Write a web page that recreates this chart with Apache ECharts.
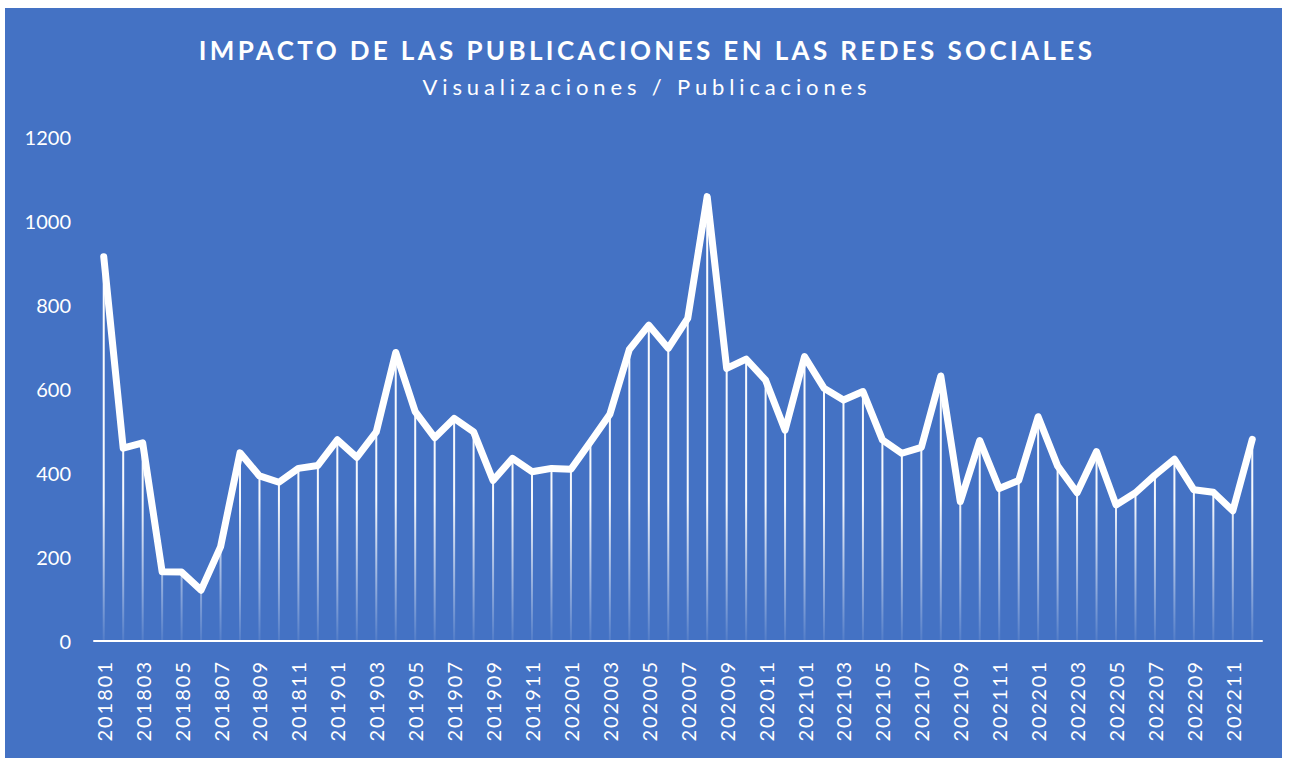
<!DOCTYPE html>
<html>
<head>
<meta charset="utf-8">
<script src="https://cdn.jsdelivr.net/npm/echarts@6/dist/echarts.min.js"></script>
<style>
  html, body { margin: 0; padding: 0; background: #ffffff; }
  #chart { position: absolute; left: 5px; top: 8px; width: 1277px; height: 750px; }
</style>
</head>
<body>
<div id="chart"></div>
<script>
// Monthly periods (YYYYMM)
const periods = [
  '201801','201802','201803','201804','201805','201806','201807','201808','201809','201810','201811','201812',
  '201901','201902','201903','201904','201905','201906','201907','201908','201909','201910','201911','201912',
  '202001','202002','202003','202004','202005','202006','202007','202008','202009','202010','202011','202012',
  '202101','202102','202103','202104','202105','202106','202107','202108','202109','202110','202111','202112',
  '202201','202202','202203','202204','202205','202206','202207','202208','202209','202210','202211','202212'
];

// Views per post, one value per month
const viewsPerPost = [
  915, 459, 472, 165, 164, 121, 224, 448, 393, 378, 411, 418,
  479, 437, 498, 687, 546, 484, 530, 498, 382, 435, 403, 411,
  409, 474, 540, 694, 752, 697, 768, 1058, 649, 671, 621, 502,
  677, 602, 574, 594, 479, 447, 461, 631, 332, 477, 363, 382,
  534, 417, 353, 451, 324, 353, 395, 433, 360, 354, 310, 480
];

const titleText = 'IMPACTO DE LAS PUBLICACIONES EN LAS REDES SOCIALES';
const subtitleText = 'Visualizaciones / Publicaciones';

const FONT = 'Lato, "Open Sans", "DejaVu Sans", sans-serif';
const BLUE = '#4472C4';

const dom = document.getElementById('chart');
const chart = echarts.init(dom, null, { renderer: 'svg' });

const grid = { left: 89, right: 20, top: 129, bottom: 117 };
const plotTop = grid.top;
const plotBottom = 750 - grid.bottom;

const option = {
  backgroundColor: BLUE,
  animation: false,
  graphic: [
    {
      type: 'text', x: 642, y: 42, silent: true,
      style: {
        text: titleText, fill: '#ffffff',
        font: 'bold 26px ' + FONT,
        align: 'center', verticalAlign: 'middle',
        textAlign: 'center', textVerticalAlign: 'middle'
      }
    },
    {
      type: 'text', x: 642, y: 78, silent: true,
      style: {
        text: subtitleText, fill: '#ffffff',
        font: '22px ' + FONT,
        align: 'center', verticalAlign: 'middle',
        textAlign: 'center', textVerticalAlign: 'middle'
      }
    }
  ],
  grid: grid,
  xAxis: {
    type: 'category',
    data: periods,
    boundaryGap: true,
    axisLine: { show: true, lineStyle: { color: '#ffffff', width: 2 } },
    axisTick: { show: false },
    axisLabel: {
      interval: 1, rotate: 90, margin: 19,
      color: '#ffffff', fontFamily: FONT, fontSize: 20
    },
    splitLine: { show: false }
  },
  yAxis: {
    type: 'value',
    min: 0, max: 1200, interval: 200,
    axisLine: { show: false },
    axisTick: { show: false },
    splitLine: { show: false },
    axisLabel: {
      margin: 23, color: '#ffffff', fontFamily: FONT, fontSize: 20,
      formatter: function (v) { return String(v); }
    }
  },
  series: [
    {
      // drop lines from each point down to the axis
      type: 'bar',
      data: viewsPerPost,
      barWidth: 2,
      silent: true,
      z: 1,
      itemStyle: {
        color: new echarts.graphic.LinearGradient(0, plotTop, 0, plotBottom, [
          { offset: 0, color: 'rgba(255,255,255,1)' },
          { offset: 0.72, color: 'rgba(255,255,255,0.95)' },
          { offset: 1, color: 'rgba(255,255,255,0.08)' }
        ], true)
      }
    },
    {
      type: 'line',
      data: viewsPerPost,
      showSymbol: false,
      symbol: 'none',
      silent: true,
      z: 3,
      lineStyle: { color: '#ffffff', width: 7, cap: 'round', join: 'round' }
    }
  ]
};

chart.setOption(option);

// Letter spacing for the headings and month labels (applied on the SVG text nodes)
const measureCtx = document.createElement('canvas').getContext('2d');
function spacingFor(text, font, targetWidth) {
  measureCtx.font = font;
  const w = measureCtx.measureText(text).width;
  return Math.max(0, (targetWidth - w) / (text.length - 1));
}
const titleSpacing = spacingFor(titleText, 'bold 26px ' + FONT, 893);
const subtitleSpacing = spacingFor(subtitleText, '22px ' + FONT, 444);

function applySpacing() {
  dom.querySelectorAll('text').forEach(function (t) {
    const s = t.textContent;
    if (s === titleText) t.setAttribute('letter-spacing', titleSpacing.toFixed(2) + 'px');
    else if (s === subtitleText) t.setAttribute('letter-spacing', subtitleSpacing.toFixed(2) + 'px');
    else if (/^\d{6}$/.test(s)) t.setAttribute('letter-spacing', '2px');
  });
}
chart.on('finished', applySpacing);
applySpacing();
</script>
</body>
</html>
